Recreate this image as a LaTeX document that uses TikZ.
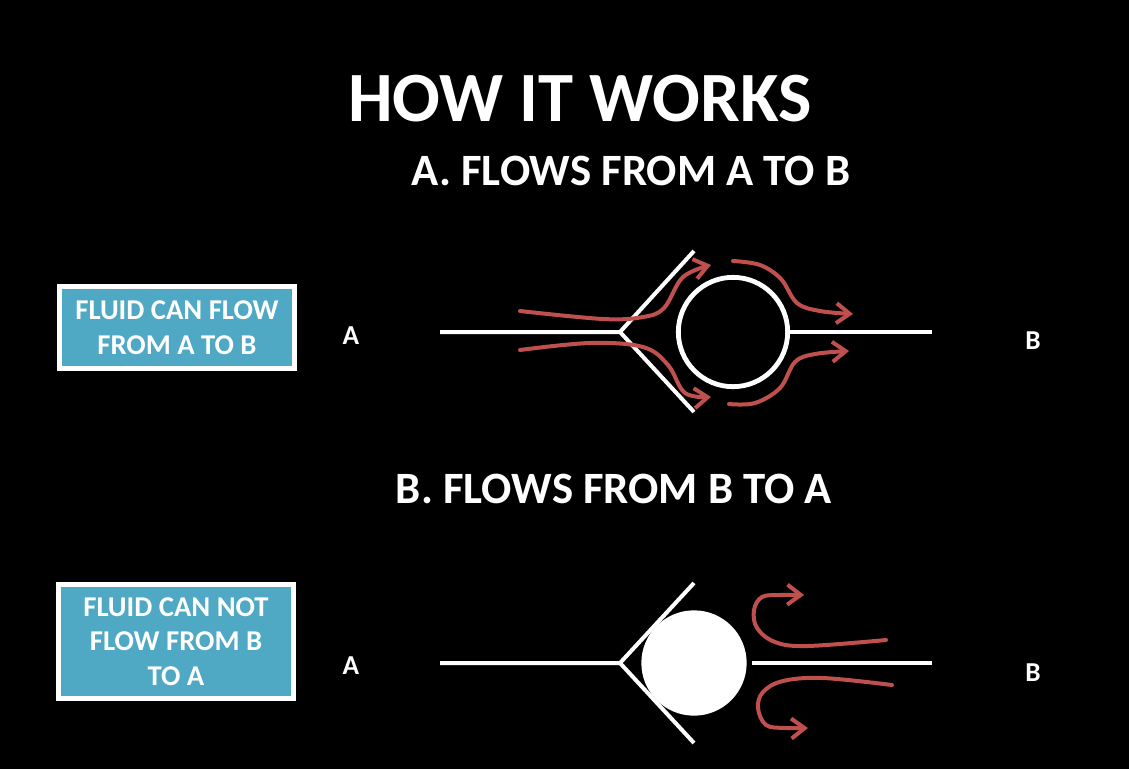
\documentclass[tikz,border=0pt]{standalone}
\usepackage{fontspec}
\setmainfont{Carlito}
\usepackage{xcolor}
\usetikzlibrary{arrows.meta, positioning}
\definecolor{flowred}{HTML}{C0504D}
\definecolor{boxblue}{HTML}{4FA8C4}

\begin{document}
\begin{tikzpicture}[
    x=0.75pt, y=-0.75pt,
    pipe/.style={draw=white, line width=3pt},
    flow/.style={draw=flowred, line width=3pt, line cap=round, line join=round,
      -{Straight Barb[length=10pt, width=15pt, line width=3pt]}},
    note/.style={draw=white, line width=3.6pt, fill=boxblue, text=white, minimum width=176pt,
      align=center, font=\fontsize{21.5}{25.8}\selectfont\bfseries},
    port/.style={text=white, font=\fontsize{20.5}{22}\selectfont\bfseries}
  ]
  \path[use as bounding box, fill=black] (0, 0) rectangle (1129, 769);

  % Headings
  \node[text=white, font=\fontsize{53}{60}\selectfont\bfseries] (title) at (580, 99) {HOW IT WORKS};
  \node[text=white, font=\fontsize{33.6}{36}\selectfont\bfseries] (headA) at (631, 171) {A. FLOWS FROM A TO B};
  \node[text=white, font=\fontsize{33.6}{36}\selectfont\bfseries] (headB) at (614, 488.5) {B. FLOWS FROM B TO A};

  % Side notes
  \node[note, minimum height=61pt] (noteA) at (177, 327.5) {FLUID CAN FLOW\\FROM A TO B};
  \node[note, minimum height=86pt] (noteB) at (176, 641.5) {FLUID CAN NOT\\FLOW FROM B\\TO A};

  % Port labels
  \node[port] (portA1) at (351, 336) {A};
  \node[port] (portB1) at (1033, 341) {B};
  \node[port] (portA2) at (351, 666) {A};
  \node[port] (portB2) at (1033, 673) {B};

  % Valve open
  \coordinate (in1) at (440, 332);
  \coordinate (tip1) at (620, 332);
  \coordinate (up1) at (694, 251);
  \coordinate (lo1) at (694, 412);
  \coordinate (out1) at (932, 332);
  \draw[pipe] (in1) -- (tip1) -- (up1);
  \draw[pipe] (tip1) -- (lo1);
  \node[circle, draw=white, line width=3.6pt, minimum size=82pt, inner sep=0pt] (ball1) at (733, 332) {};
  \draw[pipe] (ball1.east) -- (out1);

  \draw[flow] plot[smooth, tension=0.6] coordinates {(520, 311) (603, 319) (643, 317) (664, 308) (683, 277) (711, 265)};
  \draw[flow] plot[smooth, tension=0.6] coordinates {(520, 350) (590, 343) (643, 347) (668, 365) (685, 393) (711, 397)};
  \draw[flow] plot[smooth, tension=0.6] coordinates {(733, 261) (760, 265) (781, 279) (797, 303) (820, 311) (853, 314)};
  \draw[flow] plot[smooth, tension=0.6] coordinates {(729, 404) (755, 403) (780, 388) (795, 362) (815, 354) (849, 351)};

  % Valve closed
  \coordinate (in2) at (440, 663);
  \coordinate (tip2) at (620, 663);
  \coordinate (up2) at (694, 583);
  \coordinate (lo2) at (694, 743);
  \coordinate (outL) at (752, 663);
  \coordinate (outR) at (932, 663);
  \draw[pipe] (in2) -- (tip2) -- (up2);
  \draw[pipe] (tip2) -- (lo2);
  \draw[pipe] (outL) -- (outR);
  \node[circle, fill=white, minimum size=79pt, inner sep=0pt] (ball2) at (694, 663) {};

  \draw[flow] plot[smooth, tension=0.6] coordinates {(886, 640) (807, 646) (775, 642) (757, 628) (754, 610) (762, 597) (780, 595) (804, 595)};
  \draw[flow] plot[smooth, tension=0.6] coordinates {(892, 685) (823, 678) (783, 681) (763, 692) (758, 708) (766, 725) (785, 728) (808, 728)};
\end{tikzpicture}
\end{document}
